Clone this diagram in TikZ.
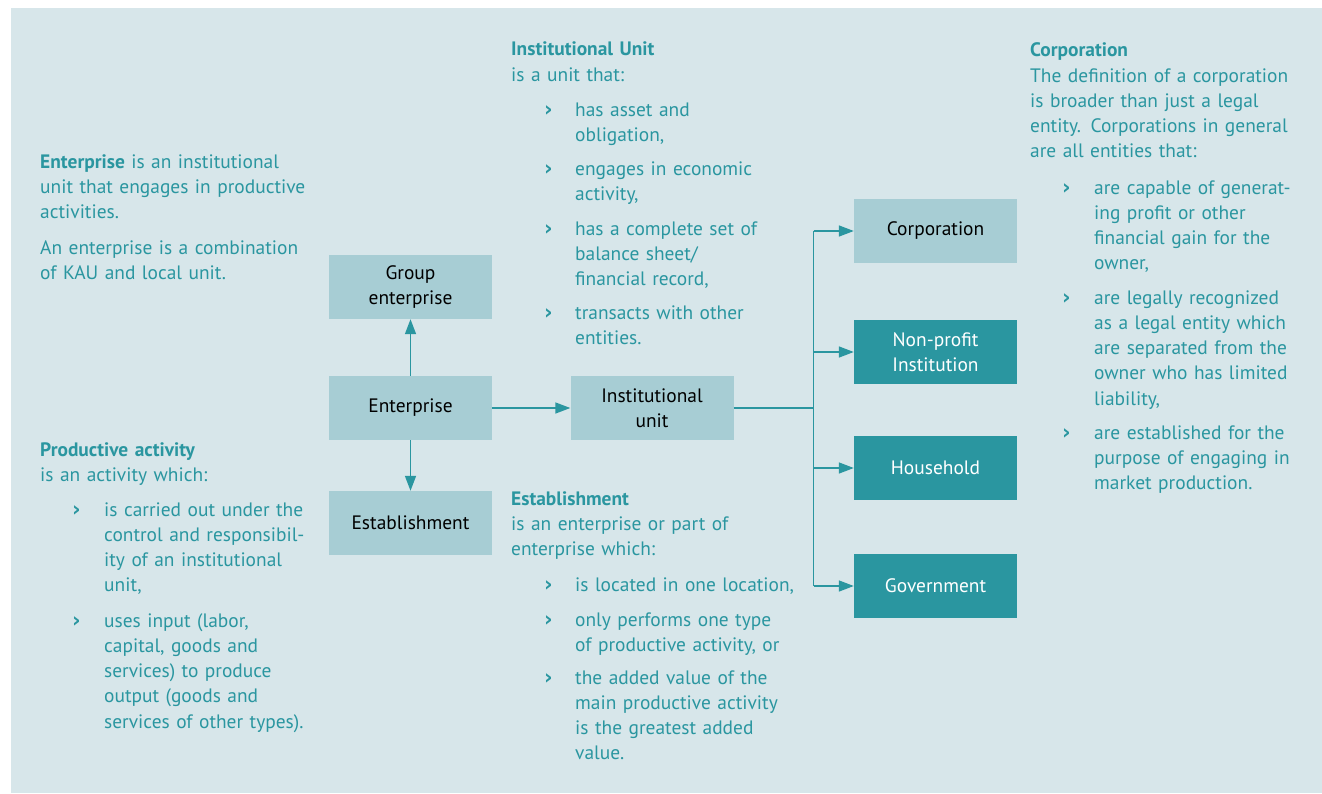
\documentclass[tikz,border=0pt]{standalone}
\usepackage{fontspec}
\setmainfont{PT Sans}
\newfontfamily\bulletfont{DejaVu Sans}
\usepackage{tikz}
\usetikzlibrary{arrows.meta, positioning, calc}

\definecolor{bgblue}{HTML}{D7E6EA}
\definecolor{boxlight}{HTML}{A7CDD4}
\definecolor{boxdark}{HTML}{2A96A0}
\definecolor{tealtext}{HTML}{2A96A0}

\begin{document}
\begin{tikzpicture}[x=1bp, y=-1bp,
  txt/.style={anchor=base west, align=left, text width=400bp, inner sep=0pt,
    text=tealtext, font=\fontsize{19.5}{25.4}\selectfont},
  head/.style={txt, font=\fontsize{19.5}{25.4}\selectfont\bfseries},
  bul/.style={anchor=base west, inner sep=0pt, text=tealtext,
    font=\bulletfont\fontsize{21}{22}\selectfont\bfseries},
  unitbox/.style={fill=boxlight, minimum width=163bp, minimum height=64bp,
    inner sep=0pt, align=center, text=black,
    font=\fontsize{19.5}{25}\selectfont},
  sectorbox/.style={unitbox, fill=boxdark, text=white},
  link/.style={draw=boxdark, line width=1.5bp},
  arr/.style={link, -{Triangle[length=15bp, width=11bp]}}]

  % ==========================================
  % background
  % ==========================================
  \useasboundingbox (0,0) rectangle (1322,793);
  \fill[bgblue] (11,8) rectangle (1322,793);

  % ==========================================
  % boxes
  % ==========================================
  \node[unitbox] (grp) at (410.5,287) {Group\\enterprise};
  \node[unitbox] (ent) at (410.5,408) {Enterprise};
  \node[unitbox] (est) at (410.5,523) {Establishment};
  \node[unitbox] (inst) at (652,408) {Institutional\\unit};

  \node[unitbox] (corp) at (935.5,231) {Corporation};
  \node[sectorbox] (npi) at (935.5,352) {Non-profit\\Institution};
  \node[sectorbox] (hh) at (935.5,468) {Household};
  \node[sectorbox] (gov) at (935.5,586) {Government};

  % ==========================================
  % connectors
  % ==========================================
  \draw[arr] (ent) -- (grp);
  \draw[arr] (ent) -- (est);
  \draw[arr] (ent) -- (inst);

  \coordinate (split) at (813.5,408);
  \draw[link] (inst) -- (split);
  \draw[link] (split |- corp.west) -- (split |- gov.west);
  \foreach \s in {corp, npi, hh, gov}
    \draw[arr] (split |- \s.west) -- (\s);

  % ==========================================
  % Enterprise (top left)
  % ==========================================
  \node[txt] (enttxt) at (40,168) {\textbf{Enterprise} is an institutional\\
    unit that engages in productive\\activities.};
  \node[txt] (entcomb) at (40,254) {An enterprise is a combination\\of KAU and local unit.};

  % ==========================================
  % Productive activity (bottom left)
  % ==========================================
  \node[head] (prodhead) at (40,456) {Productive activity};
  \node[txt] (prodintro) at (40,481) {is an activity which:};
  \node[bul] (prodb1) at (72,516) {›};
  \node[txt] (prodi1) at (104,516) {is carried out under the\\control and responsibil-\\ity of an institutional\\unit,};
  \node[bul] (prodb2) at (72,627) {›};
  \node[txt] (prodi2) at (104,627) {uses input (labor,\\capital, goods and\\services) to produce\\output (goods and\\services of other types).};

  % ==========================================
  % Institutional Unit (top middle)
  % ==========================================
  \node[head] (iuhead) at (511,56) {Institutional Unit};
  \node[txt] (iuintro) at (511,81) {is a unit that:};
  \node[bul] (iub1) at (544,116) {›};
  \node[txt] (iui1) at (575,116) {has asset and\\obligation,};
  \node[bul] (iub2) at (544,175) {›};
  \node[txt] (iui2) at (575,175) {engages in economic\\activity,};
  \node[bul] (iub3) at (544,235) {›};
  \node[txt] (iui3) at (575,235) {has a complete set of\\balance sheet/\\financial record,};
  \node[bul] (iub4) at (544,319) {›};
  \node[txt] (iui4) at (575,319) {transacts with other\\entities.};

  % ==========================================
  % Establishment (bottom middle)
  % ==========================================
  \node[head] (esthead) at (511,505) {Establishment};
  \node[txt] (estintro) at (511,530) {is an enterprise or part of\\enterprise which:};
  \node[bul] (estb1) at (544,591) {›};
  \node[txt] (esti1) at (575,591) {is located in one location,};
  \node[bul] (estb2) at (544,626) {›};
  \node[txt] (esti2) at (575,626) {only performs one type\\of productive activity, or};
  \node[bul] (estb3) at (544,684) {›};
  \node[txt] (esti3) at (575,684) {the added value of the\\main productive activity\\is the greatest added\\value.};

  % ==========================================
  % Corporation (top right)
  % ==========================================
  \node[head] (corphead) at (1030,57) {Corporation};
  \node[txt] (corpintro) at (1030,82) {The definition of a corporation\\is broader than just a legal\\entity. Corporations in general\\are all entities that:};
  \node[bul] (corpb1) at (1062,194) {›};
  \node[txt] (corpi1) at (1094,194) {are capable of generat-\\ing profit or other\\financial gain for the\\owner,};
  \node[bul] (corpb2) at (1062,304) {›};
  \node[txt] (corpi2) at (1094,304) {are legally recognized\\as a legal entity which\\are separated from the\\owner who has limited\\liability,};
  \node[bul] (corpb3) at (1062,439) {›};
  \node[txt] (corpi3) at (1094,439) {are established for the\\purpose of engaging in\\market production.};

\end{tikzpicture}
\end{document}
